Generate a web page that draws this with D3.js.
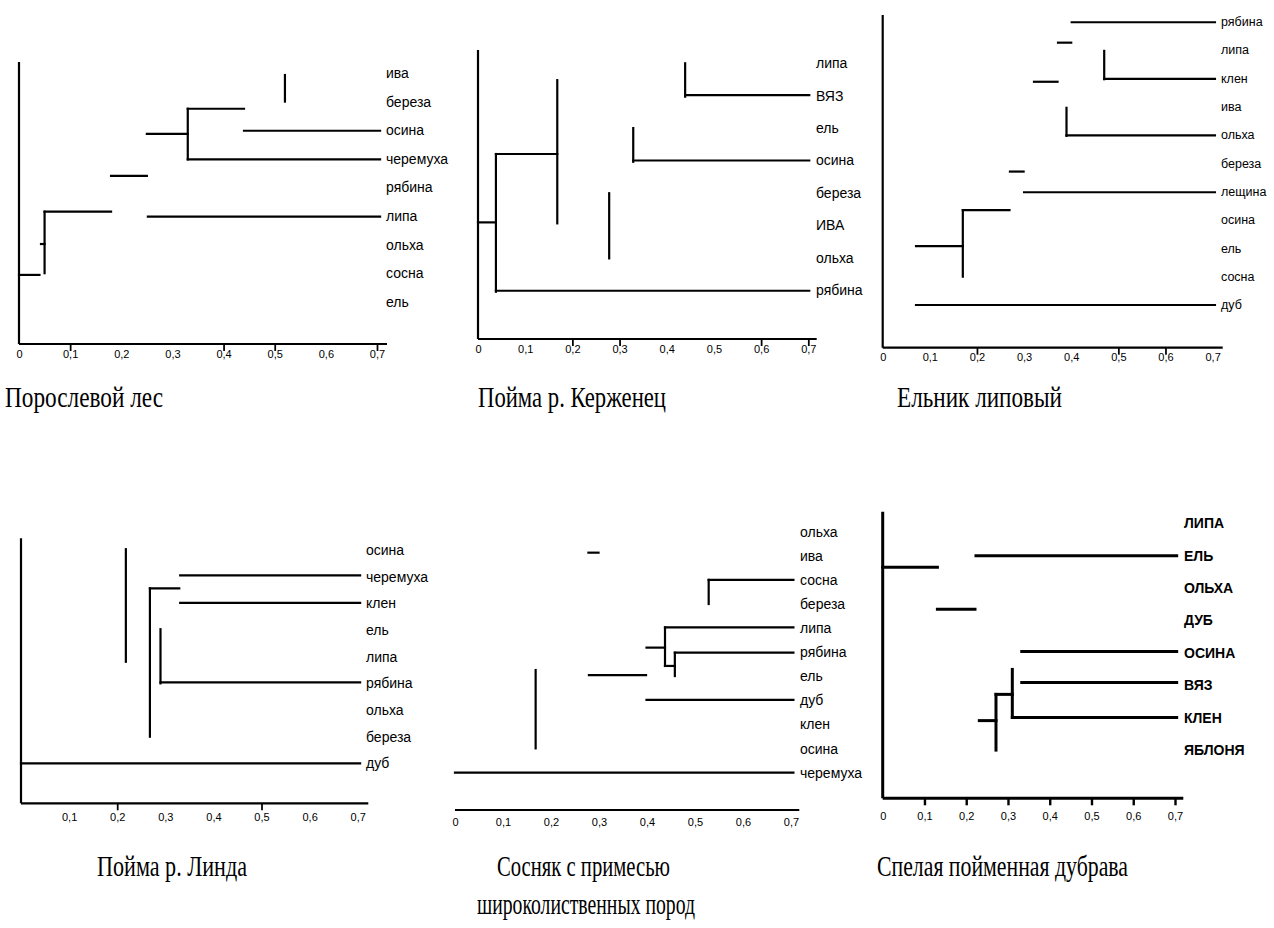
<!DOCTYPE html>
<html>
<head>
<meta charset="utf-8">
<script src="https://cdn.jsdelivr.net/npm/d3@7"></script>
<style>
    body { margin: 0; background: #fff; }
    svg { display: block; }
    .lbl { font-family: "Liberation Sans", Arial, sans-serif; font-size: 14px; fill: #000; }
    .bold .lbl { font-weight: bold; }
    .tick text { font-family: "Liberation Sans Narrow", "Liberation Sans", sans-serif; font-size: 11px; fill: #000; }
    .title { font-family: "Liberation Serif", "Times New Roman", serif; font-size: 29px; fill: #000; }
</style>
</head>
<body>
<svg id="chart" width="1274" height="928"></svg>
<script>
// tick labels of the distance axis
var tickLabels = ['0', '0,1', '0,2', '0,3', '0,4', '0,5', '0,6', '0,7'];
var tickValues = [0, 0.1, 0.2, 0.3, 0.4, 0.5, 0.6, 0.7];

// species (rows, top to bottom)
var names1 = ['ива', 'береза', 'осина', 'черемуха', 'рябина', 'липа', 'ольха', 'сосна', 'ель'];
var names2 = ['липа', 'ВЯЗ', 'ель', 'осина', 'береза', 'ИВА', 'ольха', 'рябина'];
var names3 = ['рябина', 'липа', 'клен', 'ива', 'ольха', 'береза', 'лещина', 'осина', 'ель', 'сосна', 'дуб'];
var names4 = ['осина', 'черемуха', 'клен', 'ель', 'липа', 'рябина', 'ольха', 'береза', 'дуб'];
var names5 = ['ольха', 'ива', 'сосна', 'береза', 'липа', 'рябина', 'ель', 'дуб', 'клен', 'осина', 'черемуха'];
var names6 = ['ЛИПА', 'ЕЛЬ', 'ОЛЬХА', 'ДУБ', 'ОСИНА', 'ВЯЗ', 'КЛЕН', 'ЯБЛОНЯ'];

// dendrogram segments: [distance1, row1, distance2, row2]
var segs1 = [
    [0.52, 0.07, 0.52, 1.0],
    [0.33, 1.25, 0.44, 1.25],
    [0.33, 1.25, 0.33, 3.02],
    [0.25, 2.13, 0.33, 2.13],
    [0.44, 2.02, 0.706, 2.02],
    [0.33, 3.02, 0.706, 3.02],
    [0.18, 3.6, 0.25, 3.6],
    [0.05, 4.85, 0.18, 4.85],
    [0.05, 4.85, 0.05, 7.0],
    [0.252, 5.02, 0.706, 5.02],
    [0.043, 5.98, 0.05, 5.98],
    [0, 7.06, 0.04, 7.06]
];
var segs2 = [
    [0.439, 0, 0.439, 1.03],
    [0.439, 0.98, 0.702, 0.98],
    [0.168, 0.52, 0.168, 4.94],
    [0.038, 2.8, 0.168, 2.8],
    [0.038, 2.8, 0.038, 7.05],
    [0.329, 2.0, 0.329, 3.04],
    [0.329, 3.0, 0.702, 3.0],
    [0.278, 4.01, 0.278, 6.02],
    [0, 4.91, 0.038, 4.91],
    [0.038, 7.02, 0.702, 7.02]
];
var segs3 = [
    [0.401, 0.02, 0.705, 0.02],
    [0.372, 0.74, 0.400, 0.74],
    [0.470, 1.03, 0.470, 2.03],
    [0.470, 2.02, 0.705, 2.02],
    [0.321, 2.12, 0.371, 2.12],
    [0.390, 3.04, 0.390, 4.03],
    [0.390, 4.01, 0.705, 4.01],
    [0.270, 5.29, 0.299, 5.29],
    [0.300, 6.02, 0.705, 6.02],
    [0.170, 6.65, 0.269, 6.65],
    [0.170, 6.65, 0.170, 9.0],
    [0.0707, 7.92, 0.170, 7.92],
    [0.0707, 10.0, 0.705, 10.0]
];
var segs4 = [
    [0.218, -0.03, 0.218, 4.19],
    [0.331, 0.95, 0.705, 0.95],
    [0.268, 1.44, 0.329, 1.44],
    [0.268, 1.44, 0.268, 7.0],
    [0.331, 1.98, 0.705, 1.98],
    [0.290, 2.97, 0.290, 5.0],
    [0.290, 4.96, 0.705, 4.96],
    [0, 8.0, 0.705, 8.0]
];
var segs5 = [
    [0.278, 0.87, 0.299, 0.87],
    [0.5285, 2.0, 0.5285, 3.0],
    [0.5285, 2.0, 0.705, 2.0],
    [0.4375, 3.97, 0.705, 3.97],
    [0.4375, 3.97, 0.4375, 5.57],
    [0.399, 4.81, 0.4375, 4.81],
    [0.458, 5.02, 0.705, 5.02],
    [0.458, 5.02, 0.458, 5.99],
    [0.4375, 5.57, 0.458, 5.57],
    [0.279, 5.95, 0.398, 5.95],
    [0.399, 6.98, 0.705, 6.98],
    [0.168, 5.74, 0.168, 8.99],
    [0, 10.0, 0.705, 10.0]
];
var segs6 = [
    [0.2234, 1.0, 0.704, 1.0],
    [0, 1.36, 0.131, 1.36],
    [0.131, 2.65, 0.221, 2.65],
    [0.333, 3.96, 0.704, 3.96],
    [0.3104, 4.51, 0.3104, 5.99],
    [0.333, 4.91, 0.704, 4.91],
    [0.2713, 5.28, 0.3104, 5.28],
    [0.2713, 5.28, 0.2713, 7.0],
    [0.3104, 5.99, 0.704, 5.99],
    [0.2314, 6.09, 0.2713, 6.09]
];

// tick marks that survived on each axis
var marks1 = [0.1, 0.4, 0.5, 0.7];
var marks2 = [0.2, 0.3, 0.6, 0.7];
var marks3 = [0.2, 0.5, 0.6];
var marks4 = [0.2, 0.5];
var marks5 = [];
var marks6 = [0.1, 0.2, 0.3, 0.4, 0.5, 0.6, 0.7];

// layout of the six panels
var panels = [
    {title: ['Порослевой лес'], titleX: [5], titleW: [158], titleY: [407], names: names1, segs: segs1, marks: marks1, firstTick: 0,
     x0: 19, x7: 377, axisEnd: 387, yTop: 62, axisY: 344, row0: 73, rowStep: 28.6, labelX: 386, yAxis: true, lw: 2.2, tickDy: 12},
    {title: ['Пойма р. Керженец'], titleX: [478], titleW: [188], titleY: [407], names: names2, segs: segs2, marks: marks2, firstTick: 0,
     x0: 478, x7: 808.3, axisEnd: 816.7, yTop: 50, axisY: 339, row0: 63.3, rowStep: 32.4, labelX: 816, yAxis: true, lw: 2.2, tickDy: 12},
    {title: ['Ельник липовый'], titleX: [897], titleW: [165], titleY: [407], names: names3, segs: segs3, marks: marks3, firstTick: 0,
     x0: 882.7, x7: 1212.6, axisEnd: 1222.7, yTop: 15, axisY: 347.7, row0: 21.7, rowStep: 28.33, labelX: 1221, yAxis: true, lw: 2.2, tickDy: 12, fs: 12.5},
    {title: ['Пойма р. Линда'], titleX: [97], titleW: [150], titleY: [876], names: names4, segs: segs4, marks: marks4, firstTick: 1,
     x0: 21, x7: 357.7, axisEnd: 368.3, yTop: 538.3, axisY: 803.3, row0: 550, rowStep: 26.67, labelX: 366, yAxis: true, lw: 2.2, tickDy: 16},
    {title: ['Сосняк с примесью', 'широколиственных пород'], titleX: [497, 477], titleW: [173, 218], titleY: [876, 914], names: names5, segs: segs5, marks: marks5, firstTick: 0,
     x0: 455, x7: 791, axisEnd: 799.3, yTop: 0, axisY: 810, row0: 531.7, rowStep: 24.1, labelX: 800, yAxis: false, lw: 2.2, tickDy: 14},
    {title: ['Спелая пойменная дубрава'], titleX: [877], titleW: [251], titleY: [876], names: names6, segs: segs6, marks: marks6, firstTick: 0,
     x0: 882.7, x7: 1175, axisEnd: 1183.3, yTop: 511.7, axisY: 798.3, row0: 523.3, rowStep: 32.4, labelX: 1184, yAxis: true, lw: 3, tickDy: 20, bold: true}
];

var svg = d3.select('#chart');

panels.forEach(function (p) {
    var g = svg.append('g').attr('class', p.bold ? 'bold' : null);

    var x = d3.scaleLinear().domain([0, 0.7]).range([p.x0, p.x7]);
    var y = d3.scaleLinear().domain([0, 1]).range([p.row0, p.row0 + p.rowStep]);

    // axis frame
    if (p.yAxis) {
        g.append('line')
            .attr('x1', x(0)).attr('x2', x(0))
            .attr('y1', p.yTop).attr('y2', p.axisY)
            .attr('stroke', '#000').attr('stroke-width', p.lw);
    }
    g.append('line')
        .attr('x1', x(0)).attr('x2', p.axisEnd)
        .attr('y1', p.axisY).attr('y2', p.axisY)
        .attr('stroke', '#000').attr('stroke-width', p.lw);

    // tick marks
    var marks = g.append('g')
        .attr('transform', 'translate(0,' + p.axisY + ')')
        .call(d3.axisBottom(x).tickValues(p.marks).tickSize(7).tickFormat(''));
    marks.select('.domain').remove();
    marks.selectAll('.tick line').attr('stroke-width', p.lw * 0.8);

    // tick labels
    var vals = tickValues.slice(p.firstTick);
    var lab = g.append('g')
        .attr('transform', 'translate(0,' + p.axisY + ')')
        .call(d3.axisBottom(x).tickValues(vals).tickSize(0).tickPadding(p.tickDy - 6)
            .tickFormat(function (d) { return tickLabels[tickValues.indexOf(d)]; }));
    lab.select('.domain').remove();

    // dendrogram links
    g.selectAll('.seg')
        .data(p.segs)
        .enter()
        .append('line')
        .attr('class', 'seg')
        .attr('x1', function (d) { return x(d[0]); })
        .attr('y1', function (d) { return y(d[1]); })
        .attr('x2', function (d) { return x(d[2]); })
        .attr('y2', function (d) { return y(d[3]); })
        .attr('stroke', '#000')
        .attr('stroke-width', p.lw)
        .attr('stroke-linecap', 'square');

    // species labels
    g.selectAll('.lbl')
        .data(p.names)
        .enter()
        .append('text')
        .attr('class', 'lbl')
        .attr('x', p.labelX)
        .attr('y', function (d, i) { return y(i); })
        .attr('dy', '0.35em')
        .style('font-size', p.fs ? p.fs + 'px' : null)
        .text(function (d) { return d; });

    // caption, squeezed like the scanned original
    p.title.forEach(function (t, i) {
        svg.append('text')
            .attr('class', 'title')
            .attr('x', p.titleX[i])
            .attr('y', p.titleY[i])
            .attr('textLength', p.titleW[i])
            .attr('lengthAdjust', 'spacingAndGlyphs')
            .text(t);
    });
});
</script>
</body>
</html>
